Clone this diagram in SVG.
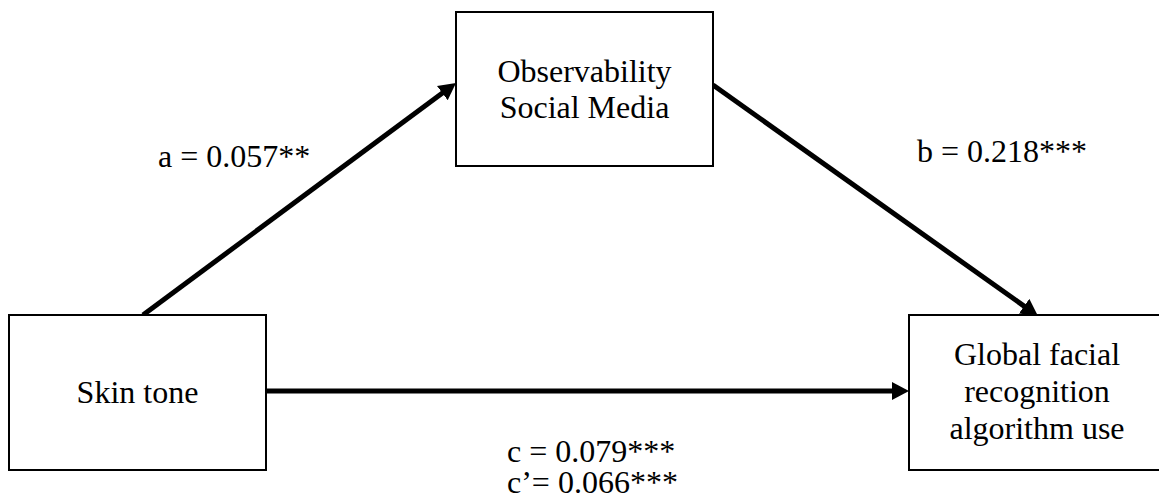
<svg xmlns="http://www.w3.org/2000/svg" width="1159" height="504" viewBox="0 0 1159 504">
  <style>
    .box { fill: #ffffff; stroke: #000000; stroke-width: 2; }
    .lbl { font-family: "Liberation Serif", "Times New Roman", serif; font-size: 32px; fill: #000000; }
    .mid { text-anchor: middle; }
    .edge { stroke: #000000; stroke-width: 5; fill: none; marker-end: url(#arrow); }
  </style>
  <defs>
    <marker id="arrow" markerUnits="userSpaceOnUse" markerWidth="20" markerHeight="20" refX="6" refY="9" orient="auto">
      <path d="M0,0 L17,9 L0,18 Z" fill="#000000"/>
    </marker>
  </defs>
  <rect width="1159" height="504" fill="#ffffff"/>

  <!-- connectors -->
  <g id="connectors">
    <line class="edge" x1="143" y1="315" x2="447.16" y2="89.55"/>
    <line class="edge" x1="713" y1="85" x2="1029.02" y2="309.64"/>
    <line class="edge" x1="266" y1="391" x2="898" y2="391"/>
  </g>

  <!-- path coefficients -->
  <g id="labels">
    <text class="lbl" x="158" y="167">a = 0.057**</text>
    <text class="lbl" x="917" y="162">b = 0.218***</text>
    <text class="lbl" x="507" y="462">c = 0.079***</text>
    <text class="lbl" x="507" y="493">c’= 0.066***</text>
  </g>

  <g id="skin-tone">
    <rect class="box" x="9" y="315" width="257" height="155"/>
    <text class="lbl mid" x="137.5" y="403">Skin tone</text>
  </g>

  <g id="observability">
    <rect class="box" x="456" y="12" width="257" height="154"/>
    <text class="lbl mid" x="584.5" y="82">Observability</text>
    <text class="lbl mid" x="584.5" y="118">Social Media</text>
  </g>

  <g id="facial-recognition">
    <rect class="box" x="909" y="315" width="258" height="155"/>
    <text class="lbl mid" x="1037" y="365">Global facial</text>
    <text class="lbl mid" x="1037" y="402">recognition</text>
    <text class="lbl mid" x="1037" y="439">algorithm use</text>
  </g>
</svg>
